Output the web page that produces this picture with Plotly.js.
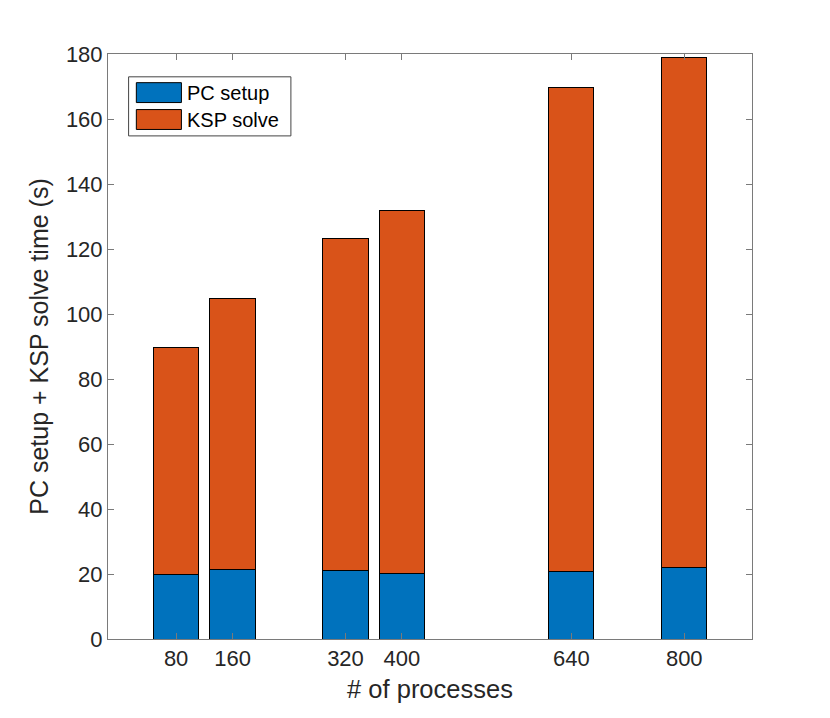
<!DOCTYPE html>
<html>
<head>
<meta charset="utf-8">
<script src="https://cdn.plot.ly/plotly-3.0.1.min.js"></script>
<style>
  html, body { margin: 0; padding: 0; background: #fff; }
  #chart { width: 830px; height: 718px; }
</style>
</head>
<body>
<div id="chart"></div>
<script>
// number of processes on the x axis
const processes = [80, 160, 320, 400, 640, 800];
// seconds
const pcSetup = [19.7, 21.3, 21.2, 20.1, 20.8, 21.9];
const kspSolve = [69.9, 83.4, 101.9, 111.9, 148.8, 157.1];
const seriesNames = ['PC setup', 'KSP solve'];
const seriesColors = ['#0072BD', '#D95319'];
const yTicks = [0, 20, 40, 60, 80, 100, 120, 140, 160, 180];

const textColor = '#262626';
const lineColor = '#7a7a7a';
const font = { family: 'Liberation Sans, Arial, sans-serif', size: 22, color: textColor };

const traces = [pcSetup, kspSolve].map((vals, i) => ({
  type: 'bar',
  name: seriesNames[i],
  x: processes,
  y: vals,
  width: 64,
  marker: { color: seriesColors[i], line: { color: '#000', width: 1 } },
  showlegend: false,
  hoverinfo: 'x+y+name'
}));

// legend drawn by hand so the swatches look like the MATLAB ones
const shapes = [
  { type: 'rect', xref: 'paper', yref: 'paper', x0: 0.032, x1: 0.284, y0: 0.860, y1: 0.961,
    line: { color: '#444', width: 1 }, fillcolor: '#fff' }
];
const annotations = [];
const rowTop = [0.951, 0.905];
seriesNames.forEach((name, i) => {
  shapes.push({ type: 'rect', xref: 'paper', yref: 'paper', x0: 0.044, x1: 0.114,
    y0: rowTop[i] - 0.034, y1: rowTop[i], fillcolor: seriesColors[i],
    line: { color: '#000', width: 1 } });
  annotations.push({ xref: 'paper', yref: 'paper', x: 0.119, y: rowTop[i] - 0.017,
    xanchor: 'left', yanchor: 'middle', text: name, showarrow: false,
    font: { family: font.family, size: 20, color: '#000' } });
});

const layout = {
  width: 830,
  height: 718,
  margin: { l: 108, r: 78, t: 54, b: 79 },
  paper_bgcolor: '#fff',
  plot_bgcolor: '#fff',
  barmode: 'stack',
  font: font,
  xaxis: {
    range: [-16.5, 896],
    tickvals: processes,
    ticks: 'inside',
    ticklen: 6,
    tickcolor: lineColor,
    showline: true,
    linecolor: lineColor,
    linewidth: 1,
    mirror: 'ticks',
    showgrid: false,
    zeroline: false,
    tickfont: { size: 22 },
    title: { text: '# of processes', font: { size: 25.5 }, standoff: 9 }
  },
  yaxis: {
    range: [0, 180],
    tickvals: yTicks,
    ticks: 'inside',
    ticklen: 6,
    tickcolor: lineColor,
    showline: true,
    linecolor: lineColor,
    linewidth: 1,
    mirror: 'ticks',
    showgrid: false,
    zeroline: false,
    tickfont: { size: 22 },
    title: { text: 'PC setup + KSP solve time (s)', font: { size: 25 }, standoff: 10 }
  },
  shapes: shapes,
  annotations: annotations
};

Plotly.newPlot('chart', traces, layout, { displayModeBar: false, staticPlot: true });
</script>
</body>
</html>
